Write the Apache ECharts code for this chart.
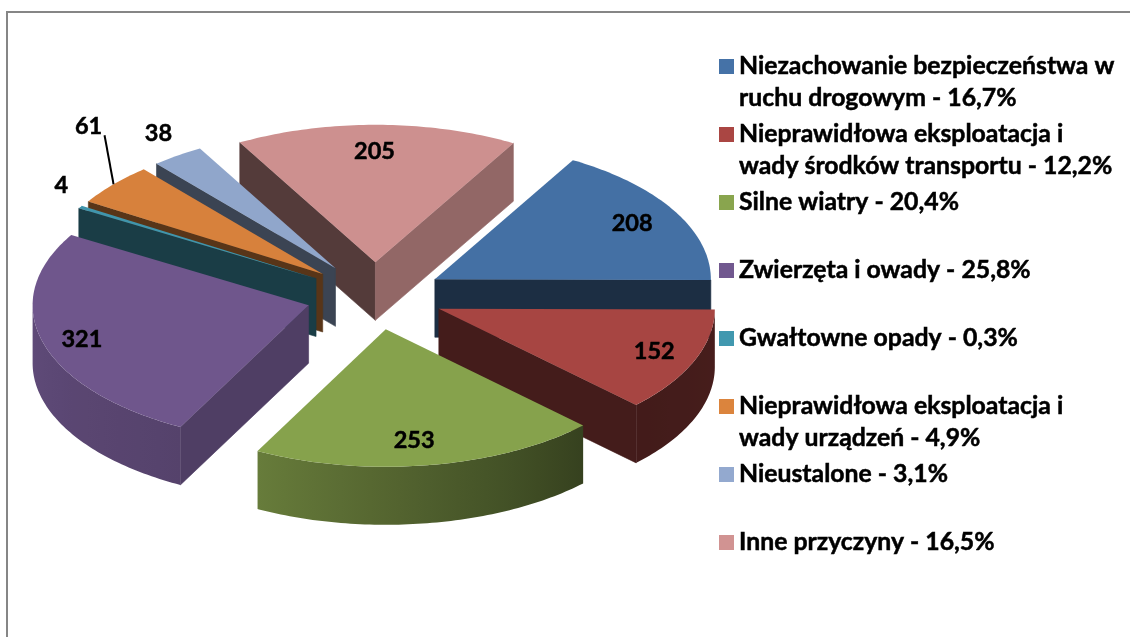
<!DOCTYPE html>
<html><head><meta charset="utf-8">
<style>html,body{margin:0;padding:0;background:#fff}#c{width:1130px;height:637px}</style>
<script src="https://cdn.jsdelivr.net/npm/echarts@6/dist/echarts.min.js"></script>
</head><body><div id="c"></div>
<script>
const categories = [
  'Niezachowanie bezpieczeństwa w\nruchu drogowym - 16,7%',
  'Nieprawidłowa eksploatacja i\nwady środków transportu - 12,2%',
  'Silne wiatry - 20,4%',
  'Zwierzęta i owady - 25,8%',
  'Gwałtowne opady - 0,3%',
  'Nieprawidłowa eksploatacja i\nwady urządzeń - 4,9%',
  'Nieustalone - 3,1%',
  'Inne przyczyny - 16,5%'
];
const values = [208, 152, 253, 321, 4, 61, 38, 205];
const colors = ['#4572A7','#AA4643','#89A54E','#71588F','#4198AF','#DB843D','#93A9CF','#D19392'];

// layout of the tilted, exploded pie
const FONT = 'Lato, Carlito, sans-serif';
const CX = 375, CY = 296, RX = 276, RY = 137.5, DEPTH = 58, EX = 69, EY = 33.7, START = 30;
const drawRank = [5, 6, 7, 4, 3, 2, 1, 0];
const labelFrac = [.82, .82, .82, .82, 1, 1, 1, .82];
const labelNudge = [[1,0], [6,0], [-7,0], [-9,4], [-19,-22], [-25,-58], [-19,-22], [-2,2]];
const total = values.reduce((a, b) => a + b, 0);
const rad = d => d * Math.PI / 180;

function hexMul(hex, f) {
  const n = parseInt(hex.slice(1), 16);
  const c = [(n >> 16) & 255, (n >> 8) & 255, n & 255].map(v => Math.round(v * f));
  return 'rgb(' + c.join(',') + ')';
}
function rimShade(t) {
  const s = [[90,.42],[134,.39],[207,.75],[270,.85]];
  for (let i = 1; i < s.length; i++) if (t <= s[i][0]) {
    const k = (t - s[i-1][0]) / (s[i][0] - s[i-1][0]);
    return s[i-1][1] + k * (s[i][1] - s[i-1][1]);
  }
  return .85;
}
function renderSlice(params, api) {
  const i = params.seriesIndex;
  const before = values.slice(0, i).reduce((a, b) => a + b, 0);
  const a1 = START + before / total * 360;
  const a2 = a1 + api.value(0) / total * 360;
  const mid = (a1 + a2) / 2;
  const color = colors[i];
  const ax = CX + EX * Math.sin(rad(mid)), ay = CY - EY * Math.cos(rad(mid));
  const pt = (t, f = 1, dz = 0) => [ax + RX * f * Math.sin(rad(t)), ay - RY * f * Math.cos(rad(t)) + dz];
  const children = [];

  // cut faces that look towards the viewer
  const M = pt(mid);
  [[a1, a1 - 90], [a2, a2 + 90]].forEach(([t, normal]) => {
    const P = pt(t);
    if (Math.abs(P[0] - ax) < 1e-6) return;
    const lineY = ay + (P[1] - ay) * (M[0] - ax) / (P[0] - ax);
    if (M[1] < lineY) {
      const fill = hexMul(color, Math.sin(rad(normal)) > 0.1 ? 0.7 : 0.4);
      children.push({type: 'polygon',
        shape: {points: [[ax, ay], P, [P[0], P[1] + DEPTH], [ax, ay + DEPTH]]},
        style: {fill, stroke: fill, lineWidth: 0.6}});
    }
  });

  // outer rim: only the part of the arc on the viewer's side
  const r1 = Math.max(a1, 90), r2 = Math.min(a2, 270);
  if (r2 > r1) {
    const up = [], down = [];
    for (let t = r1; t < r2; t += 1) { up.push(pt(t)); down.unshift(pt(t, 1, DEPTH)); }
    up.push(pt(r2)); down.unshift(pt(r2, 1, DEPTH));
    const x0 = pt(r1)[0], x1 = pt(r2)[0], stops = [];
    for (let k = 0; k <= 12; k++) {
      const t = r1 + (r2 - r1) * k / 12;
      const off = (pt(t)[0] - x0) / (x1 - x0);
      stops.push({offset: off, color: hexMul(color, rimShade(t))});
    }
    children.push({type: 'polygon', shape: {points: up.concat(down)},
      style: {fill: {type: 'linear', x: x0, y: 0, x2: x1, y2: 0, global: true, colorStops: stops}}});
  }

  // top face
  const top = [[ax, ay]];
  for (let t = a1; t < a2; t += 1) top.push(pt(t));
  top.push(pt(a2));
  children.push({type: 'polygon', shape: {points: top}, style: {fill: hexMul(color, 0.98)}});

  // leader line of the orange slice
  const L = pt(mid, labelFrac[i]);
  if (i === 5) {
    children.push({type: 'line', shape: {x1: L[0] - 9, y1: L[1] - 49, x2: L[0], y2: L[1]},
      style: {stroke: '#000', lineWidth: 2}});
  }
  children.push({type: 'text', style: {text: String(api.value(0)), x: L[0] + labelNudge[i][0], y: L[1] + labelNudge[i][1],
    align: 'center', verticalAlign: 'middle', fill: '#000', font: '700 23.5px ' + FONT,
    stroke: '#000', lineWidth: 0.5}});
  return {type: 'group', children};
}

// the legend swatch sits at the text's vertical middle, so two-line entries are
// balanced with blank lines to keep the swatch level with their first line
const LEGEND_Y0 = 66.5, LEGEND_STEP = 68, LINE = 32;
const legends = categories.map((name, i) => {
  const two = name.indexOf('\n') >= 0;
  const h = two ? LINE * 5 : LINE;
  return {
    data: [{name, icon: 'rect'}], orient: 'vertical', left: 719, top: LEGEND_Y0 + LEGEND_STEP * i - h / 2,
    padding: 0, itemWidth: 15, itemHeight: 15, itemGap: 0, selectedMode: false,
    formatter: n => n.indexOf('\n') >= 0 ? ' \n \n' + n + '\n ' : n,
    textStyle: {color: '#000', fontFamily: FONT, fontWeight: 700, fontSize: 24.8, lineHeight: LINE,
      textBorderColor: '#000', textBorderWidth: 0.5}
  };
});

const chart = echarts.init(document.getElementById('c'), null, {renderer: 'canvas'});
chart.setOption({
  animation: false,
  backgroundColor: '#fff',
  legend: legends,
  graphic: [{type: 'polyline', z: 100, shape: {points: [[7, 637], [7, 12], [1130, 12]]},
    style: {stroke: '#868686', lineWidth: 2, fill: null}}],
  series: categories.map((name, i) => ({
    type: 'custom', name, coordinateSystem: 'none', z: 2 + drawRank[i],
    itemStyle: {color: colors[i]}, renderItem: renderSlice, data: [[values[i]]]
  }))
});
</script></body></html>
